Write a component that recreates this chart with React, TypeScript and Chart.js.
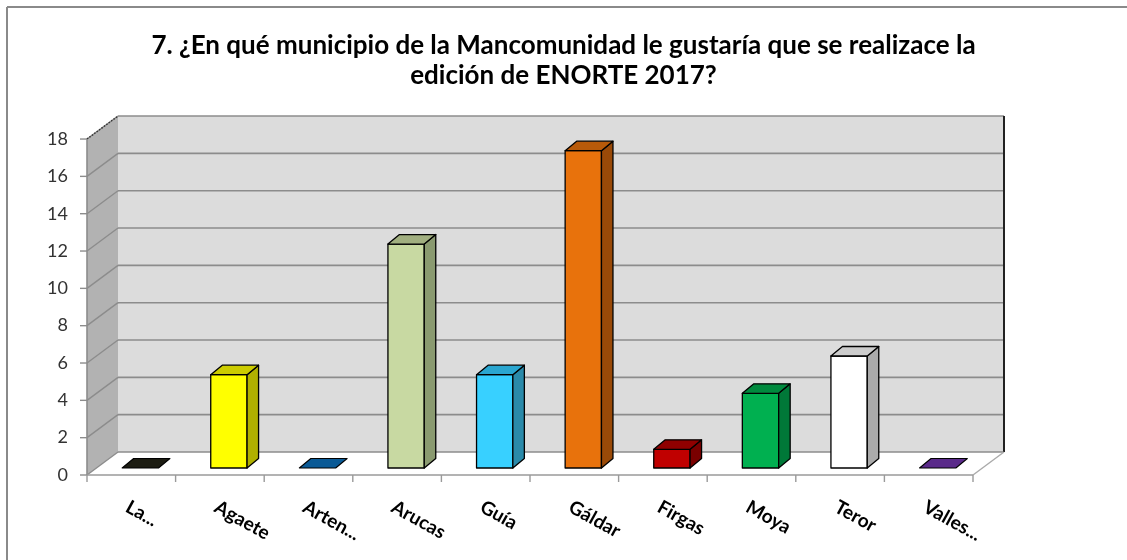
import React, { useEffect, useRef } from "react";
import { Chart, registerables } from "chart.js";

Chart.register(...registerables);

const titleLines = [
  "7. ¿En qué municipio de la Mancomunidad le gustaría que se realizace la",
  "edición de ENORTE 2017?",
];
const categories = ["La...", "Agaete", "Arten...", "Arucas", "Guía", "Gáldar", "Firgas", "Moya", "Teror", "Valles..."];
const values = [0, 5, 0, 12, 5, 17, 1, 4, 6, 0];
const yMin = 0;
const yMax = 18;
const yStep = 2;

const frontColors = ["#1f1f16", "#ffff00", "#0b64a8", "#c8d9a2", "#38d0ff", "#e8720c", "#c00000", "#00b050", "#ffffff", "#6a32a0"];
const sideColors = ["#111111", "#b0b000", "#064070", "#8a9a70", "#2a8aaa", "#9a4a08", "#7a0000", "#007838", "#aaaaaa", "#44206a"];
const topColors = ["#1c1c12", "#cccc00", "#0a5a96", "#a1af80", "#2aa6d0", "#b85a0a", "#900000", "#008a3e", "#cccccc", "#5a2a8a"];

const WALL = { dx: 31, dy: -23 };
const BAR_OFF = { dx: 9, dy: -7 };
const BAR_DEPTH = { dx: 11.5, dy: -9.5 };

function poly(ctx: CanvasRenderingContext2D, pts: number[][], fill?: string, stroke?: string, lw = 1) {
  ctx.beginPath();
  ctx.moveTo(pts[0][0], pts[0][1]);
  for (let i = 1; i < pts.length; i++) ctx.lineTo(pts[i][0], pts[i][1]);
  ctx.closePath();
  if (fill) {
    ctx.fillStyle = fill;
    ctx.fill();
  }
  if (stroke) {
    ctx.strokeStyle = stroke;
    ctx.lineWidth = lw;
    ctx.stroke();
  }
}

function line(ctx: CanvasRenderingContext2D, x1: number, y1: number, x2: number, y2: number, color: string, lw: number) {
  ctx.beginPath();
  ctx.moveTo(x1, y1);
  ctx.lineTo(x2, y2);
  ctx.strokeStyle = color;
  ctx.lineWidth = lw;
  ctx.stroke();
}

const threeDPlugin = {
  id: "threeD",
  beforeDraw(chart: any) {
    const { ctx, width, height } = chart;
    ctx.save();
    ctx.fillStyle = "#ffffff";
    ctx.fillRect(0, 0, width, height);
    line(ctx, 7, 7, width, 7, "#8a8a8a", 2);
    line(ctx, 7, 7, 7, height, "#8a8a8a", 2);
    ctx.restore();
  },
  beforeDatasetsDraw(chart: any) {
    const { ctx, chartArea: a, scales } = chart;
    const ys = scales.y;
    const xs = scales.x;
    const L = a.left, R = a.right, T = a.top, B = a.bottom;
    const { dx, dy } = WALL;
    ctx.save();
    // side wall
    poly(ctx, [[L, T], [L + dx, T + dy], [L + dx, B + dy], [L, B]], "#b2b2b2");
    // back wall
    poly(ctx, [[L + dx, T + dy], [R + dx, T + dy], [R + dx, B + dy], [L + dx, B + dy]], "#dcdcdc");
    // floor
    poly(ctx, [[L, B], [R, B], [R + dx, B + dy], [L + dx, B + dy]], "#ffffff");
    // gridlines
    for (let v = yMin; v <= yMax; v += yStep) {
      const yf = ys.getPixelForValue(v);
      const yb = yf + dy;
      line(ctx, L + dx, yb, R + dx, yb, "#8c8c8c", 1.6);
      line(ctx, L, yf, L + dx, yb, "#8c8c8c", 1.4);
      line(ctx, L - 7, yf, L, yf, "#8c8c8c", 1.4);
    }
    // back wall right edge
    line(ctx, R + dx, T + dy, R + dx, B + dy, "#222222", 2);
    // left wall top edge dotted
    ctx.setLineDash([1.5, 1.5]);
    line(ctx, L, T, L + dx, T + dy, "#333333", 1.4);
    ctx.setLineDash([]);
    // front axis
    line(ctx, L, T, L, B, "#8c8c8c", 1.6);
    // floor edges
    line(ctx, L, B, R, B, "#9a9a9a", 1.6);
    line(ctx, R, B, R + dx, B + dy, "#aaaaaa", 1.4);
    // category ticks
    const n = categories.length;
    const cw = (R - L) / n;
    for (let i = 0; i <= n; i++) {
      const x = L + cw * i;
      line(ctx, x, B, x, B + 7, "#9a9a9a", 1.4);
    }
    // bars
    const meta = chart.getDatasetMeta(0);
    meta.data.forEach((el: any, i: number) => {
      const p = el.getProps(["x", "y", "base", "width"], true);
      const x0 = p.x - p.width / 2 + BAR_OFF.dx;
      const x1 = p.x + p.width / 2 + BAR_OFF.dx;
      const yt = p.y + BAR_OFF.dy;
      const yb = p.base + BAR_OFF.dy;
      const bdx = BAR_DEPTH.dx, bdy = BAR_DEPTH.dy;
      ctx.lineJoin = "round";
      if (values[i] > 0) {
        poly(ctx, [[x0, yt], [x1, yt], [x1, yb], [x0, yb]], frontColors[i], "#000000", 1.3);
        poly(ctx, [[x1, yt], [x1 + bdx, yt + bdy], [x1 + bdx, yb + bdy], [x1, yb]], sideColors[i], "#000000", 1.3);
        poly(ctx, [[x0, yt], [x1, yt], [x1 + bdx, yt + bdy], [x0 + bdx, yt + bdy]], topColors[i], "#000000", 1.3);
      } else {
        poly(ctx, [[x0, yb], [x1, yb], [x1 + bdx, yb + bdy], [x0 + bdx, yb + bdy]], topColors[i], "#000000", 1.1);
      }
    });
    // category labels
    ctx.font = "bold 19px Lato";
    ctx.fillStyle = "#000000";
    ctx.textAlign = "left";
    ctx.textBaseline = "alphabetic";
    categories.forEach((c, i) => {
      const x = xs.getPixelForValue(i);
      ctx.save();
      ctx.translate(x - 7, B + 36);
      ctx.rotate((29 * Math.PI) / 180);
      ctx.fillText(c, 0, 0);
      ctx.restore();
    });
    ctx.restore();
    return false;
  },
};

export default function App() {
  const ref = useRef<HTMLCanvasElement>(null);
  useEffect(() => {
    document.body.style.margin = "0";
    const chart = new Chart(ref.current as HTMLCanvasElement, {
      type: "bar",
      data: {
        labels: categories,
        datasets: [
          {
            label: "Respuestas",
            data: values,
            backgroundColor: frontColors,
            borderColor: "#000000",
            borderWidth: 1,
            categoryPercentage: 1,
            barPercentage: 0.41,
          },
        ],
      },
      options: {
        responsive: false,
        animation: false,
        events: [],
        layout: { padding: { left: 0, right: 0, top: 0, bottom: 85 } },
        plugins: {
          legend: { display: false },
          tooltip: { enabled: false },
          title: {
            display: true,
            text: titleLines,
            color: "#000000",
            font: { family: "Lato", size: 26, weight: "bold", lineHeight: 1.17 },
            padding: { top: 30, bottom: 48.2 },
          },
        },
        scales: {
          x: { display: false, offset: true },
          y: {
            position: "left",
            min: yMin,
            max: yMax,
            ticks: { stepSize: yStep, padding: 19, color: "#333333", font: { family: "Lato", size: 18 } },
            grid: { display: false, drawTicks: false },
            border: { display: false },
            afterFit: (s: any) => {
              s.width = 87;
              s.paddingTop = 0;
              s.paddingBottom = 0;
            },
          },
          y2: {
            position: "right",
            display: true,
            ticks: { display: false },
            grid: { display: false, drawTicks: false },
            border: { display: false },
            afterFit: (s: any) => {
              s.width = 154;
              s.paddingTop = 0;
              s.paddingBottom = 0;
            },
          },
        },
      },
      plugins: [threeDPlugin],
    } as any);
    return () => chart.destroy();
  }, []);
  return (
    <div style={{ position: "fixed", left: 0, top: 0, width: 1127, height: 560 }}>
      <canvas ref={ref} width={1127} height={560} style={{ display: "block" }} />
    </div>
  );
}
